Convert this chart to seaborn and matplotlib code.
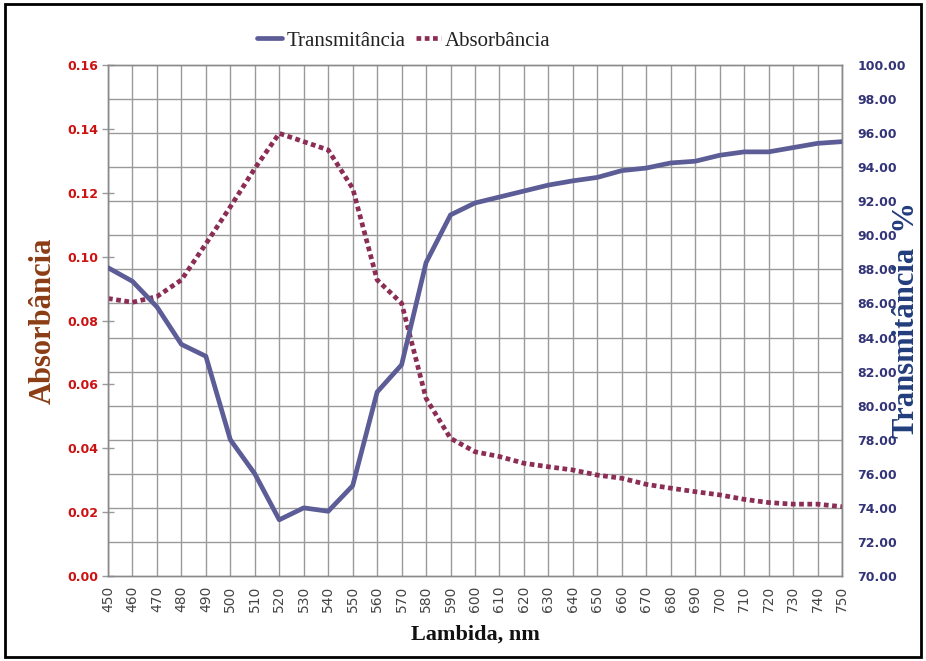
import matplotlib
matplotlib.use("Agg")
import matplotlib.pyplot as plt
import pandas as pd
import seaborn as sns
from matplotlib.ticker import MultipleLocator, FormatStrFormatter
from matplotlib.patches import Rectangle
from matplotlib.lines import Line2D

# Spectral scan, 450-750 nm in 10 nm steps
comprimento_onda = list(range(450, 751, 10))
transmitancia = [88.1, 87.3, 85.8, 83.6, 82.9, 78.0, 76.0, 73.3, 74.0, 73.8,
                 75.3, 80.8, 82.4, 88.4, 91.2, 91.9, 92.25, 92.6, 92.95, 93.2,
                 93.4, 93.8, 93.95, 94.25, 94.35, 94.7, 94.9, 94.9, 95.15, 95.4,
                 95.5]
absorbancia = [0.0869, 0.0857, 0.0875, 0.0927, 0.104, 0.1156, 0.1276, 0.1386,
               0.136, 0.1334, 0.1214, 0.0927, 0.0854, 0.0556, 0.0431, 0.0389,
               0.0374, 0.0353, 0.0342, 0.0332, 0.0316, 0.0306, 0.0287, 0.0275,
               0.0264, 0.0254, 0.024, 0.023, 0.0225, 0.0225, 0.0217]
nomes_series = ["Transmitância", "Absorbância"]

df = pd.DataFrame({"Lambda": comprimento_onda,
                   "Transmitancia": transmitancia,
                   "Absorbancia": absorbancia})

sns.set_theme(style="white")
plt.rcParams["font.family"] = ["DejaVu Sans"]

COR_T = "#5c5c96"
COR_A = "#8c2d55"
COR_GRADE = "#9a9a9a"
SERIF = ["Liberation Serif", "DejaVu Serif"]

fig = plt.figure(figsize=(9.26, 6.61), dpi=100)
fig.patch.set_facecolor("white")
ax = fig.add_axes([108 / 926, 1 - 576 / 661, 734 / 926, 511 / 661])
ax2 = ax.twinx()

sns.lineplot(data=df, x="Lambda", y="Absorbancia", ax=ax, color=COR_A,
             lw=3.4, linestyle=(0, (1.0, 0.75)), zorder=3)
sns.lineplot(data=df, x="Lambda", y="Transmitancia", ax=ax2, color=COR_T,
             lw=3.4, zorder=3)

# left axis: absorbance
ax.set_xlim(450, 750)
ax.set_ylim(0, 0.16)
ax.xaxis.set_major_locator(MultipleLocator(10))
ax.yaxis.set_major_locator(MultipleLocator(0.02))
ax.yaxis.set_major_formatter(FormatStrFormatter("%.2f"))
# horizontal grid follows the transmittance scale (every 2 %)
ax.yaxis.set_minor_locator(MultipleLocator(0.16 / 15))
ax.grid(False)
ax.grid(which="major", axis="x", color=COR_GRADE, lw=1.0)
ax.grid(which="minor", axis="y", color=COR_GRADE, lw=1.0)
ax.tick_params(axis="y", which="minor", length=0)
ax.tick_params(axis="y", which="major", direction="inout", length=8,
               width=1, color=COR_GRADE, pad=3, labelsize=9,
               labelcolor="#cc1111")
ax.tick_params(axis="x", which="major", direction="inout", length=8,
               width=1, color=COR_GRADE, pad=3, labelsize=10,
               labelcolor="#444444", labelrotation=90)
for lab in ax.get_yticklabels():
    lab.set_fontweight("bold")

# right axis: transmittance
ax2.set_ylim(70, 100)
ax2.yaxis.set_major_locator(MultipleLocator(2))
ax2.yaxis.set_major_formatter(FormatStrFormatter("%.2f"))
ax2.grid(False)
ax2.tick_params(axis="y", length=0, pad=11, labelsize=9,
                labelcolor="#333377")
for lab in ax2.get_yticklabels():
    lab.set_fontweight("bold")

for a in (ax, ax2):
    for s in a.spines.values():
        s.set_color("#8a8a8a")
        s.set_linewidth(1.0)

ax.set_xlabel("Lambida, nm", family=SERIF, fontweight="bold", fontsize=16,
              color="#111111")
ax.xaxis.set_label_coords(0.5, -0.095)
ax.set_ylabel("Absorbância", family=SERIF, fontweight="bold", fontsize=22,
              color="#8b3c14")
ax.yaxis.set_label_coords(-0.068, 0.5)
ax2.set_ylabel("Transmitância  %", family=SERIF, fontweight="bold",
               fontsize=22, color="#223d7c", rotation=90)
ax2.yaxis.set_label_coords(1.068, 0.5)

handles = [Line2D([], [], color=COR_T, lw=3.4),
           Line2D([], [], color=COR_A, lw=3.4, linestyle=(0, (1.0, 0.75)))]
fig.legend(handles=handles, labels=nomes_series, loc="center",
           bbox_to_anchor=(404 / 926, 1 - 41 / 661), ncol=2, frameon=False,
           handlelength=1.2, handletextpad=0.2, columnspacing=0.5,
           prop={"family": SERIF, "size": 15}, labelcolor="#222222")

fig.add_artist(Rectangle((0.005, 0.006), 0.99, 0.988,
                         transform=fig.transFigure, fill=False,
                         ec="black", lw=2))

fig.savefig("out.png", dpi=100, facecolor="white")
